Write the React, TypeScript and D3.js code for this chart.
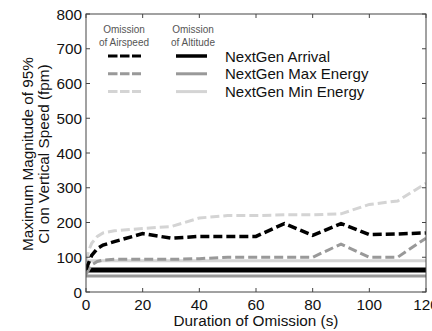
import React from "react";
import * as d3 from "d3";

const durations = [0, 1, 2, 4, 6, 10, 20, 30, 40, 50, 60, 70, 80, 90, 100, 110, 120];
const arrivalAirspeed = [65, 85, 105, 125, 135, 145, 168, 155, 160, 160, 160, 197, 163, 197, 165, 167, 170];
const maxEnergyAirspeed = [50, 65, 78, 88, 92, 94, 94, 94, 96, 100, 100, 100, 100, 138, 100, 100, 155];
const minEnergyAirspeed = [90, 120, 140, 160, 170, 176, 183, 188, 213, 220, 220, 222, 222, 225, 252, 262, 313];
const arrivalAltitude = 63;
const maxEnergyAltitude = 46;
const minEnergyAltitude = 90;

const xTicks = [0, 20, 40, 60, 80, 100, 120];
const yTicks = [0, 100, 200, 300, 400, 500, 600, 700, 800];
const seriesNames = ["NextGen Arrival", "NextGen Max Energy", "NextGen Min Energy"];
const seriesColors = ["#000000", "#999999", "#d4d4d4"];

const W = 432, H = 331;
const L = 86, R = 426, T = 14, B = 292;

export default function App() {
  const x = d3.scaleLinear().domain([0, 120]).range([L, R]);
  const y = d3.scaleLinear().domain([0, 800]).range([B, T]);
  const line = d3.line<number>().x((_, i) => x(durations[i])).y((d) => y(d));
  const dashedSeries = [arrivalAirspeed, maxEnergyAirspeed, minEnergyAirspeed];
  const solidSeries = [arrivalAltitude, maxEnergyAltitude, minEnergyAltitude];
  const font = "Liberation Sans, Arial, sans-serif";
  const tk = 4;
  const fs = 15.3;
  return (
    <svg width={W} height={H} style={{ position: "absolute", left: 0, top: 0, background: "#fff" }} fontFamily={font}>
      <defs>
        <clipPath id="plot">
          <rect x={L} y={T} width={R - L} height={B - T} />
        </clipPath>
      </defs>
      <g clipPath="url(#plot)">
        {solidSeries.map((v, i) => (
          <line key={"s" + i} x1={x(0)} x2={x(120)} y1={y(v)} y2={y(v)} stroke={seriesColors[i]} strokeWidth={i === 0 ? 5 : 3} />
        ))}
        {[2, 1, 0].map((i) => (
          <path key={"d" + i} d={line(dashedSeries[i]) || ""} fill="none" stroke={seriesColors[i]} strokeWidth={i === 0 ? 3.5 : 3} strokeDasharray="9,4" />
        ))}
      </g>
      <rect x={L} y={T} width={R - L} height={B - T} fill="none" stroke="#444" strokeWidth={1} />
      {xTicks.map((t) => (
        <g key={"x" + t}>
          <line x1={x(t)} x2={x(t)} y1={B} y2={B - tk} stroke="#444" />
          <line x1={x(t)} x2={x(t)} y1={T} y2={T + tk} stroke="#444" />
          <text x={x(t)} y={B + 18} fontSize={fs} textAnchor="middle" fill="#111">{t}</text>
        </g>
      ))}
      {yTicks.map((t) => (
        <g key={"y" + t}>
          <line x1={L} x2={L + tk} y1={y(t)} y2={y(t)} stroke="#444" />
          <line x1={R} x2={R - tk} y1={y(t)} y2={y(t)} stroke="#444" />
          <text x={L - 4} y={y(t) + 5.5} fontSize={fs} textAnchor="end" fill="#111">{t}</text>
        </g>
      ))}
      <text x={(L + R) / 2} y={326} fontSize={fs} textAnchor="middle" fill="#111">Duration of Omission (s)</text>
      <g transform={`translate(0, ${154}) rotate(-90)`}>
        <text x={0} y={33} fontSize={fs} textAnchor="middle" fill="#111">Maximum Magnitude of 95%</text>
        <text x={0} y={49} fontSize={fs} textAnchor="middle" fill="#111">CI on Vertical Speed (fpm)</text>
      </g>
      <g fontSize={10} fill="#555" textAnchor="middle">
        <text x={124} y={33}>Omission</text>
        <text x={124} y={46}>of Airspeed</text>
        <text x={193} y={33}>Omission</text>
        <text x={193} y={46}>of Altitude</text>
      </g>
      {seriesNames.map((n, i) => {
        const ly = 56 + i * 17.8;
        return (
          <g key={n}>
            <line x1={108} x2={141} y1={ly} y2={ly} stroke={seriesColors[i]} strokeWidth={3} strokeDasharray="9.5,2.5" />
            <line x1={176} x2={207} y1={ly} y2={ly} stroke={seriesColors[i]} strokeWidth={i === 0 ? 3.5 : 3} />
            <text x={225} y={ly + 5.5} fontSize={15} fill="#111">{n}</text>
          </g>
        );
      })}
    </svg>
  );
}
